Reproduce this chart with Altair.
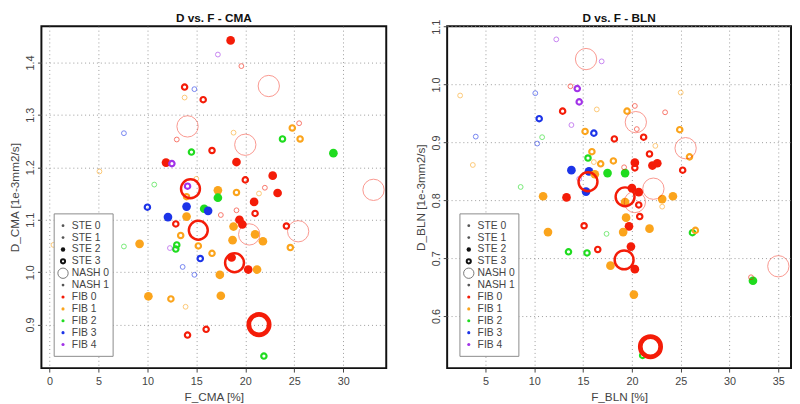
import altair as alt
import pandas as pd

# ---------------- data ----------------
CMA_F = [18.5, 17.2, 19.6, 22.4, 13.8, 14.8, 13.8, 15.7, 14.1, 25.5, 24.8, 7.6, 18.8, 23.8, 25.6,
         13.0, 20.0, 14.5, 16.6, 29.0, 11.9, 12.5, 19.1, 5.1, 10.7, 14.4, 14.1, 15.0, 20.0, 22.8,
         22.0, 17.2, 17.2, 19.1, 23.3, 21.4, 14.0, 33.1, 20.9, 10.0, 14.0, 15.8, 16.2, 17.5, 19.1,
         21.0, 12.1, 14.0, 12.9, 15.2, 19.4, 19.7, 18.8, 20.4, 21.0, 18.7, 21.8, 24.2, 25.4, 13.4,
         9.2, 7.6, 13.0, 12.9, 12.3, 15.2, 24.6, 16.6, 15.4, 18.9, 18.6, 20.3, 21.2, 13.6, 14.8,
         17.4, 10.1, 12.4, 17.5, 13.9, 21.4, 16.0, 14.1, 21.9, 0.4]
CMA_D = [1.442, 1.415, 1.393, 1.355, 1.353, 1.349, 1.333, 1.329, 1.278, 1.284, 1.275, 1.265, 1.266, 1.254, 1.254,
         1.253, 1.243, 1.229, 1.232, 1.227, 1.209, 1.207, 1.210, 1.192, 1.167, 1.159, 1.164, 1.178, 1.176, 1.184,
         1.161, 1.156, 1.142, 1.152, 1.151, 1.150, 1.144, 1.157, 1.134, 1.124, 1.125, 1.121, 1.117, 1.109, 1.118,
         1.112, 1.105, 1.106, 1.092, 1.080, 1.100, 1.091, 1.087, 1.072, 1.072, 1.061, 1.059, 1.088, 1.078, 1.070,
         1.054, 1.049, 1.052, 1.044, 1.046, 1.050, 1.047, 1.036, 1.026, 1.018, 1.028, 1.005, 1.005, 1.010, 0.995,
         0.995, 0.954, 0.949, 0.955, 0.934, 0.900, 0.891, 0.880, 0.840, 1.052]
CMA_FIB = [0, 4, 0, 0, 0, 3, 1, 0, 0, 0, 1, 3, 1, 2, 1,
           0, 0, 2, 0, 2, 0, 4, 0, 1, 2, 0, 4, 1, 0, 0,
           0, 1, 2, 1, 0, 1, 1, 0, 0, 3, 3, 2, 3, 0, 0,
           0, 3, 1, 0, 0, 0, 0, 1, 0, 1, 1, 1, 0, 0, 1,
           1, 2, 2, 2, 4, 1, 1, 1, 3, 0, 0, 0, 1, 3, 3,
           1, 1, 1, 1, 1, 0, 0, 0, 2, 1]
CMA_KIND = ["fill", "thin", "thin", "big", "ring", "thin", "thin", "ring", "big", "thin", "ring", "thin", "thin", "ring", "ring",
            "thin", "big", "ring", "ring", "fill", "fill", "ring", "fill", "thin", "thin", "bigring", "ring", "thin", "ring", "fill",
            "thin", "fill", "fill", "ring", "fill", "thin", "ring", "big", "fill", "ring", "fill", "fill", "fill", "thin", "thin",
            "ring", "fill", "fill", "ring", "bigring", "fill", "fill", "fill", "big", "fill", "fill", "fill", "ring", "big", "ring",
            "fill", "thin", "ring", "ring", "thin", "ring", "ring", "ring", "ring", "bigring", "fill", "fill", "fill", "thin", "thin",
            "fill", "fill", "ring", "fill", "thin", "bigthick", "ring", "ring", "ring", "thin"]

BLN_F = [12.25, 15.3, 16.9, 2.4, 13.7, 14.4, 25.0, 10.1, 14.6, 20.3, 16.4, 12.9, 19.5, 23.4, 10.5,
         20.4, 20.5, 13.8, 24.9, 15.2, 16.1, 4.0, 10.8, 18.2, 21.2, 10.3, 22.4, 25.5, 25.9, 21.8,
         15.9, 15.5, 16.1, 16.8, 18.1, 3.7, 20.3, 20.3, 19.2, 22.1, 22.6, 25.2, 13.8, 15.6, 17.5,
         19.3, 16.2, 14.6, 15.5, 15.3, 8.6, 10.9, 13.3, 19.3, 20.0, 20.7, 22.2, 23.1, 24.2, 19.3,
         20.7, 20.3, 23.1, 20.8, 19.4, 19.7, 21.8, 19.1, 15.1, 11.4, 17.4, 19.9, 16.5, 13.5, 15.4,
         19.2, 17.8, 20.3, 35.0, 32.2, 32.4, 20.2, 21.1, 21.9, 26.2, 26.5]
BLN_D = [1.078, 1.044, 1.040, 0.981, 0.997, 0.993, 0.986, 0.985, 0.970, 0.963, 0.957, 0.954, 0.954, 0.952, 0.941,
         0.935, 0.923, 0.930, 0.922, 0.919, 0.916, 0.910, 0.909, 0.906, 0.909, 0.898, 0.894, 0.890, 0.875, 0.880,
         0.884, 0.873, 0.866, 0.863, 0.868, 0.861, 0.865, 0.856, 0.857, 0.860, 0.864, 0.852, 0.852, 0.850, 0.847,
         0.847, 0.845, 0.837, 0.832, 0.815, 0.823, 0.807, 0.805, 0.806, 0.821, 0.814, 0.820, 0.802, 0.807, 0.797,
         0.792, 0.797, 0.789, 0.772, 0.770, 0.755, 0.751, 0.745, 0.756, 0.745, 0.742, 0.720, 0.715, 0.711, 0.709,
         0.697, 0.687, 0.681, 0.686, 0.667, 0.661, 0.637, 0.532, 0.547, 0.744, 0.748]
BLN_FIB = [4, 0, 4, 1, 0, 4, 1, 3, 4, 0, 1, 0, 1, 0, 3,
           0, 0, 4, 1, 1, 3, 3, 2, 0, 0, 3, 1, 0, 1, 0,
           1, 2, 1, 1, 1, 1, 0, 0, 0, 0, 0, 0, 3, 3, 2,
           2, 1, 4, 0, 3, 2, 1, 0, 0, 0, 0, 0, 1, 1, 1,
           0, 0, 1, 0, 1, 0, 1, 1, 0, 1, 2, 0, 0, 2, 2,
           0, 1, 0, 0, 0, 2, 1, 2, 0, 2, 1]
BLN_KIND = ["thin", "big", "thin", "thin", "thin", "ring", "thin", "thin", "ring", "thin", "thin", "ring", "ring", "thin", "ring",
            "big", "thin", "thin", "ring", "ring", "ring", "thin", "thin", "ring", "ring", "thin", "thin", "big", "ring", "ring",
            "ring", "ring", "thin", "ring", "ring", "thin", "fill", "ring", "thin", "fill", "fill", "ring", "fill", "fill", "fill",
            "fill", "fill", "thin", "bigring", "fill", "thin", "fill", "fill", "bigring", "fill", "fill", "big", "fill", "fill", "fill",
            "ring", "big", "thin", "ring", "fill", "fill", "fill", "fill", "ring", "fill", "thin", "fill", "ring", "ring", "ring",
            "bigring", "fill", "fill", "big", "thin", "fill", "fill", "ring", "bigthick", "ring", "ring"]

CMA_XTICKS = [0, 5, 10, 15, 20, 25, 30]
CMA_YTICKS = [0.9, 1.0, 1.1, 1.2, 1.3, 1.4]
BLN_XTICKS = [5, 10, 15, 20, 25, 30, 35]
BLN_YTICKS = [0.6, 0.7, 0.8, 0.9, 1.0, 1.1]

LEGEND_LABELS = ["STE 0", "STE 1", "STE 2", "STE 3", "NASH 0", "NASH 1",
                 "FIB 0", "FIB 1", "FIB 2", "FIB 3", "FIB 4"]
LEGEND_SYMBOLS = ["dot", "dot", "sfill", "sring", "big", "dot", "f0", "f1", "f2", "f3", "f4"]

# ---------------- styles ----------------
FIB_COLORS = ["#f41c08", "#fba41c", "#1fdc1f", "#1c34e8", "#a233e8"]
STYLE = {
    "thin": dict(size=24, sw=1.0, op=0.6),
    "ring": dict(size=30, sw=2.2, op=1.0),
    "fill": dict(size=78, sw=0.0, op=1.0),
    "big": dict(size=470, sw=1.0, op=0.45),
    "bigring": dict(size=370, sw=2.5, op=1.0),
    "bigthick": dict(size=430, sw=4.8, op=1.0),
}
LEG_STYLE = {
    "dot": dict(size=8, sw=0, col="#555555", filled=True),
    "sfill": dict(size=20, sw=0, col="#111111", filled=True),
    "sring": dict(size=18, sw=2.0, col="#111111", filled=False),
    "big": dict(size=110, sw=1.0, col="#777777", filled=False),
}
for i, c in enumerate(FIB_COLORS):
    LEG_STYLE["f%d" % i] = dict(size=10, sw=0, col=c, filled=True)

FONT = "Liberation Sans"
W_LEFT, W_RIGHT, H = 351, 350, 348
LEG_ROW0, LEG_STEP = 203, 12.1
LEG_BOX = dict(x=13, x2=73, y=191, y2=336)
LEG_SYM_X, LEG_TXT_X = 22, 31
TITLE_Y = -4


def panel(F, D, FIB, KIND, title, xtitle, ytitle, xdom, ydom, xvals, yvals, w):
    df = pd.DataFrame({"F": F, "D": D, "fib": FIB, "kind": KIND})
    df["col"] = [FIB_COLORS[i] for i in df["fib"]]
    df["sz"] = [STYLE[k]["size"] for k in df["kind"]]
    df["sw"] = [STYLE[k]["sw"] for k in df["kind"]]
    df["op"] = [STYLE[k]["op"] for k in df["kind"]]

    xenc = alt.X("F:Q", scale=alt.Scale(domain=xdom, nice=False, zero=False),
                 axis=alt.Axis(values=xvals, title=xtitle, format="d"))
    yenc = alt.Y("D:Q", scale=alt.Scale(domain=ydom, nice=False, zero=False),
                 axis=alt.Axis(values=yvals, title=ytitle, labelAngle=270, format=".1f",
                               labelPadding=2, minExtent=15, maxExtent=15))

    fills = alt.Chart(df[df["kind"] == "fill"]).mark_circle(opacity=1).encode(
        x=xenc, y=yenc,
        color=alt.Color("col:N", scale=None),
        size=alt.Size("sz:Q", scale=None))
    small = alt.Chart(df[df["kind"].isin(["thin", "ring"])]).mark_point(filled=False, shape="circle").encode(
        x=xenc, y=yenc,
        color=alt.Color("col:N", scale=None),
        size=alt.Size("sz:Q", scale=None),
        strokeWidth=alt.StrokeWidth("sw:Q", scale=None),
        opacity=alt.Opacity("op:Q", scale=None))
    big = alt.Chart(df[df["kind"].isin(["big", "bigring", "bigthick"])]).mark_point(filled=False, shape="circle").encode(
        x=xenc, y=yenc,
        color=alt.Color("col:N", scale=None),
        size=alt.Size("sz:Q", scale=None),
        strokeWidth=alt.StrokeWidth("sw:Q", scale=None),
        opacity=alt.Opacity("op:Q", scale=None))

    one = pd.DataFrame({"a": [0]})
    layers = [fills, small, big]
    layers.append(alt.Chart(one).mark_rect(fill="white", stroke="#8a8a8a", strokeWidth=1).encode(
        x=alt.value(LEG_BOX["x"]), x2=alt.value(LEG_BOX["x2"]),
        y=alt.value(LEG_BOX["y"]), y2=alt.value(LEG_BOX["y2"])))
    for i, (lab, sym) in enumerate(zip(LEGEND_LABELS, LEGEND_SYMBOLS)):
        st = LEG_STYLE[sym]
        yy = LEG_ROW0 + i * LEG_STEP
        if st["filled"]:
            s = alt.Chart(one).mark_circle(opacity=1).encode(
                x=alt.value(LEG_SYM_X), y=alt.value(yy),
                color=alt.value(st["col"]), size=alt.value(st["size"]))
        else:
            s = alt.Chart(one).mark_point(filled=False, shape="circle", opacity=1).encode(
                x=alt.value(LEG_SYM_X), y=alt.value(yy),
                color=alt.value(st["col"]), size=alt.value(st["size"]),
                strokeWidth=alt.value(st["sw"]))
        t = alt.Chart(one).mark_text(align="left", baseline="middle", fontSize=10.5,
                                     color="#444444", font=FONT).encode(
            x=alt.value(LEG_TXT_X), y=alt.value(yy), text=alt.value(lab))
        layers += [s, t]

    # panel title as a text mark just above the frame
    layers.append(alt.Chart(one).mark_text(align="center", baseline="alphabetic", fontSize=12,
                                           fontWeight="bold", color="#111111", font=FONT).encode(
        x=alt.value(w / 2), y=alt.value(TITLE_Y), text=alt.value(title)))

    return alt.layer(*layers).properties(width=w, height=H)


left = panel(CMA_F, CMA_D, CMA_FIB, CMA_KIND, "D vs. F - CMA", "F_CMA [%]", "D_CMA [1e-3mm2/s]",
             [-0.83, 34.4], [0.817, 1.469], CMA_XTICKS, CMA_YTICKS, W_LEFT)
right = panel(BLN_F, BLN_D, BLN_FIB, BLN_KIND, "D vs. F - BLN", "F_BLN [%]", "D_BLN [1e-3mm2/s]",
              [1.07, 36.3], [0.51, 1.1007], BLN_XTICKS, BLN_YTICKS, W_RIGHT)

chart = alt.hconcat(left, right, spacing=27).properties(padding=0).configure(font=FONT).configure_view(
    stroke="#111111", strokeWidth=2
).configure_axis(
    grid=True, gridColor="#9a9a9a", gridDash=[1, 3], gridWidth=1,
    domain=False, tickColor="#444444", tickSize=4,
    labelFont=FONT, labelFontSize=11, labelColor="#444444", labelPadding=4,
    titleFont=FONT, titleFontSize=12, titleColor="#444444", titleFontWeight="normal", titlePadding=5
)

chart.save("out.html", embed_options={"renderer": "svg", "actions": False})
